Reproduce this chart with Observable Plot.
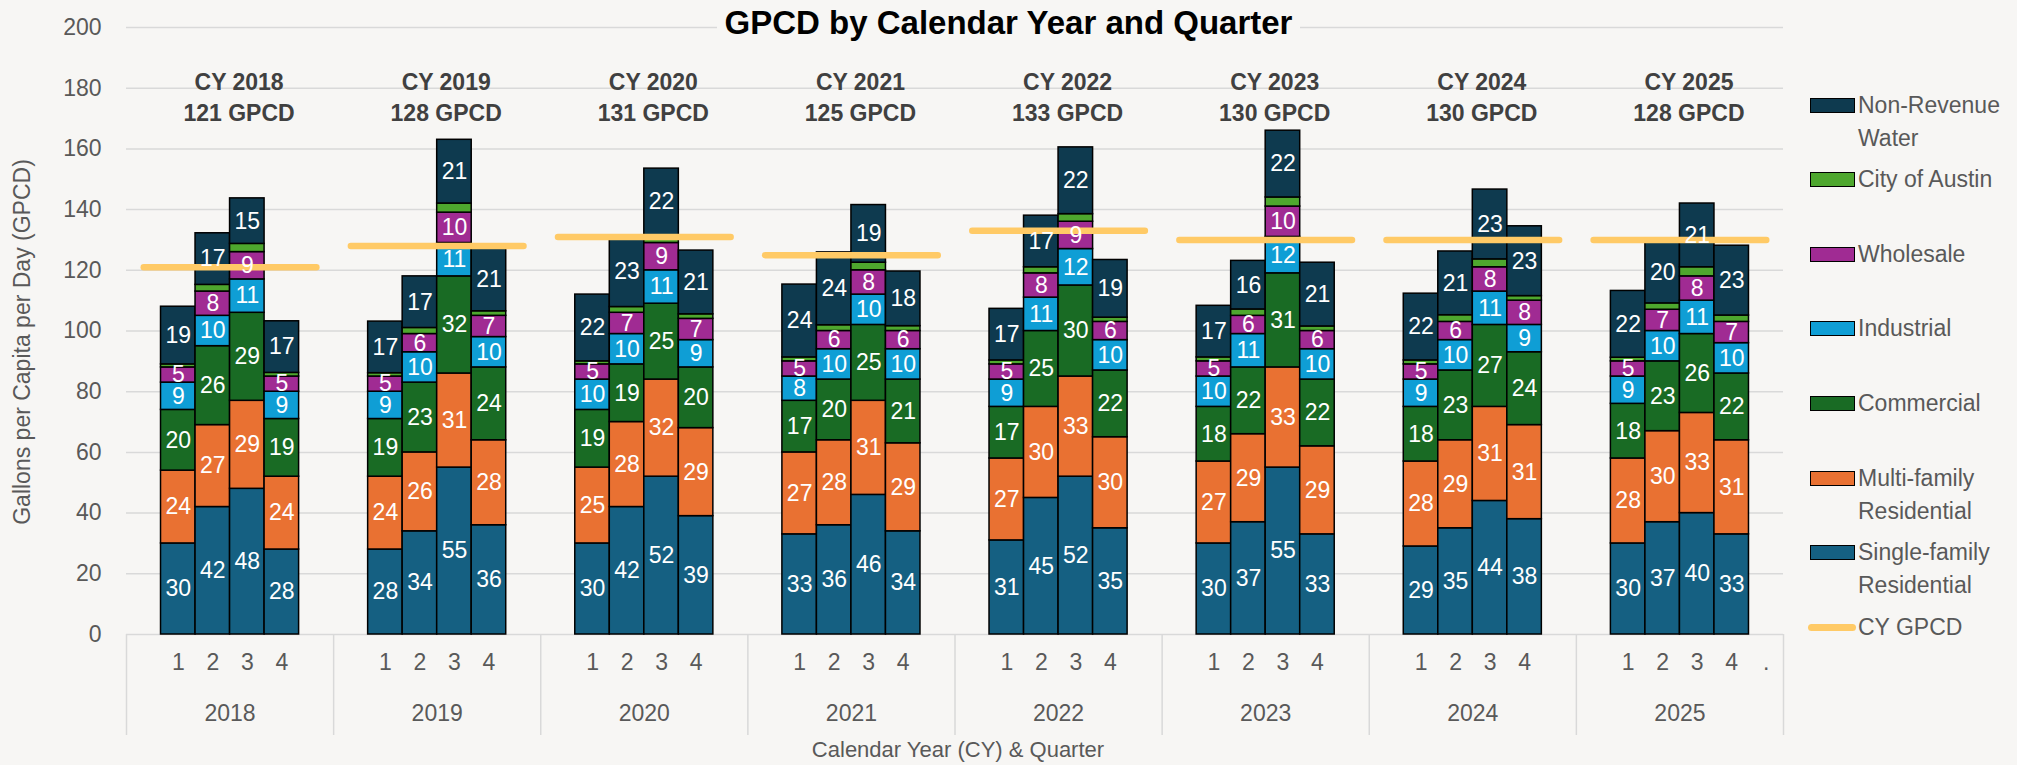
<!DOCTYPE html>
<html>
<head>
<meta charset="utf-8">
<script src="https://cdn.jsdelivr.net/npm/d3@7"></script>
<script src="https://cdn.jsdelivr.net/npm/@observablehq/plot@0.6"></script>
<style>
  html, body { margin: 0; padding: 0; background: #f7f6f4; }
  #wrap { position: relative; width: 2017px; height: 765px; background: #f7f6f4; overflow: hidden;
          font-family: "Liberation Sans", Arial, sans-serif; color: #595959; }
  #chart { position: absolute; left: 0; top: 0; }
  #title { position: absolute; left: 0; top: 5px; width: 2017px; text-align: center; font-weight: bold;
           font-size: 33px; line-height: 36px; color: #000; }
  #title span { background: #f7f6f4; padding: 0 8px; }
  .ylab { position: absolute; left: 22px; top: 342px; transform: translate(-50%, -50%) rotate(-90deg);
          font-size: 23px; white-space: nowrap; }
  .xlab { position: absolute; left: 958px; top: 750px; transform: translate(-50%, -50%);
          font-size: 22px; white-space: nowrap; }
  .lg-item { position: absolute; left: 1858px; width: 155px; font-size: 23px; line-height: 33px; color: #595959; }
  .lg-sw { position: absolute; left: 1810px; width: 45px; height: 15px; box-sizing: border-box; border: 1.5px solid #000; }
  .lg-line { position: absolute; left: 1808px; width: 48px; height: 7px; border-radius: 4px; }
</style>
</head>
<body>
<div id="wrap">
  <div id="chart"></div>
  <div id="title"><span>GPCD by Calendar Year and Quarter</span></div>
  <div class="ylab">Gallons per Capita per Day (GPCD)</div>
  <div class="xlab">Calendar Year (CY) &amp; Quarter</div>
  <div id="legend"></div>
</div>
<script>
// ---------------- data ----------------
const years = [2018, 2019, 2020, 2021, 2022, 2023, 2024, 2025];
const quarters = [1, 2, 3, 4];
const series = ["Single-family Residential", "Multi-family Residential", "Commercial", "Industrial",
                "Wholesale", "City of Austin", "Non-Revenue Water"];
const colors = ["#156082", "#e97132", "#196b24", "#0f9ed5", "#a02b93", "#4ea72e", "#0e3a4f"];
const lineName = "CY GPCD";
const lineColor = "#ffca66";

// values per quarter, 2018 Q1 ... 2025 Q4
const singleFamily = [30,42,48,28, 28,34,55,36, 30,42,52,39, 33,36,46,34, 31,45,52,35, 30,37,55,33, 29,35,44,38, 30,37,40,33];
const multiFamily  = [24,27,29,24, 24,26,31,28, 25,28,32,29, 27,28,31,29, 27,30,33,30, 27,29,33,29, 28,29,31,31, 28,30,33,31];
const commercial   = [20,26,29,19, 19,23,32,24, 19,19,25,20, 17,20,25,21, 17,25,30,22, 18,22,31,22, 18,23,27,24, 18,23,26,22];
const industrial   = [9,10,11,9, 9,10,11,10, 10,10,11,9, 8,10,10,10, 9,11,12,10, 10,11,12,10, 9,10,11,9, 9,10,11,10];
const wholesale    = [5,8,9,5, 5,6,10,7, 5,7,9,7, 5,6,8,6, 5,8,9,6, 5,6,10,6, 5,6,8,8, 5,7,8,7];
const cityOfAustin = [1.0,2.2,2.7,1.2, 1.1,2.0,3.0,1.5, 1.0,1.9,2.5,1.5, 1.3,1.9,2.5,1.6, 1.3,2.0,2.5,1.4, 1.3,2.1,3.0,1.5, 1.3,2.2,2.6,1.5, 1.2,2.1,3.0,2.1];
const nonRevenue   = [19,17,15,17, 17,17,21,21, 22,23,22,21, 24,24,19,18, 17,17,22,19, 17,16,22,21, 22,21,23,23, 22,20,21,23];
const cyGPCD = [121, 128, 131, 125, 133, 130, 130, 128];     // header labels
const cyLine = [121, 128, 131, 125, 133, 130, 130, 130];     // level of the drawn CY GPCD line

const yTicks = [0, 20, 40, 60, 80, 100, 120, 140, 160, 180, 200];
const slotLabels = ["", "1", "2", "3", "4", ""];   // each year: blank, Q1..Q4, blank
const trailingLabel = ".";
const unlabeledSeries = "City of Austin";

// ---------------- tables ----------------
const seriesValues = [singleFamily, multiFamily, commercial, industrial, wholesale, cityOfAustin, nonRevenue];
const keyOf = (y, s) => `${y}-${s}`;
const keys = years.flatMap(y => slotLabels.map((_, s) => keyOf(y, s)));
const keyRows = keys.map((k, i) => ({key: k, label: i === keys.length - 1 ? trailingLabel : slotLabels[i % slotLabels.length]}));

const rows = [];
years.forEach((y, yi) => quarters.forEach((q, qi) => {
  const idx = yi * quarters.length + qi;
  series.forEach((s, si) => rows.push({key: keyOf(y, q), series: s, value: seriesValues[si][idx]}));
}));
const lineRows = years.flatMap((y, i) => [
  {year: y, key: keyOf(y, 0), gpcd: cyLine[i]},
  {year: y, key: keyOf(y, slotLabels.length - 1), gpcd: cyLine[i]}
]);
const yearRows = years.map((y, i) => ({year: y, gpcd: cyGPCD[i]}));

// ---------------- layout ----------------
const W = 2017, H = 765, mL = 126, mR = 234, mT = 27, mB = 131;
const bw = (W - mL - mR) / keys.length;
const pxPerUnit = (H - mT - mB) / (yTicks[yTicks.length - 1] - yTicks[0]);
const sepDepth = 101 / pxPerUnit;
const midSlot = 3;
const font = '"Liberation Sans", Arial, sans-serif';

const chart = Plot.plot({
  width: W, height: H,
  marginLeft: mL, marginRight: mR, marginTop: mT, marginBottom: mB,
  style: {background: "transparent", fontFamily: font, fontSize: "23px", color: "#595959", overflow: "visible"},
  x: {domain: keys, padding: 0, round: false, axis: null},
  y: {domain: [yTicks[0], yTicks[yTicks.length - 1]], ticks: yTicks, tickSize: 0, tickPadding: 25, label: null},
  color: {domain: series, range: colors},
  marks: [
    Plot.ruleY(yTicks, {stroke: "#d9d9d9", strokeWidth: 1.5}),
    // year separators on the category axis
    Plot.ruleX(years, {x: y => keyOf(y, 0), dx: -bw / 2, y1: 0, y2: -sepDepth, stroke: "#d9d9d9", strokeWidth: 1.5}),
    Plot.ruleX([years[years.length - 1]], {x: y => keyOf(y, slotLabels.length - 1), dx: bw / 2, y1: 0, y2: -sepDepth, stroke: "#d9d9d9", strokeWidth: 1.5}),
    // stacked bars
    Plot.barY(rows, Plot.stackY({x: "key", y: "value", z: "series", fill: "series", stroke: "#000", strokeWidth: 1.5})),
    // calendar-year GPCD line
    Plot.line(lineRows, {x: "key", y: "gpcd", z: "year", stroke: lineColor, strokeWidth: 6.5, strokeLinecap: "round"}),
    // data labels
    Plot.text(rows, Plot.stackY({x: "key", y: "value", z: "series",
      text: d => d.series === unlabeledSeries ? "" : String(Math.round(d.value)),
      fill: "white", fontSize: 23})),
    // quarter labels
    Plot.text(keyRows, {x: "key", text: "label", frameAnchor: "bottom", dy: 35, fill: "#595959", fontSize: 23}),
    // year labels
    Plot.text(years, {x: y => keyOf(y, midSlot), text: y => String(y), frameAnchor: "bottom", dy: 86, dx: -bw / 2, fill: "#595959", fontSize: 23}),
    // year headers
    Plot.text(yearRows, {x: d => keyOf(d.year, midSlot), text: d => `CY ${d.year}`, frameAnchor: "top", dy: 46, dx: -bw / 2 + 9,
      fill: "#404040", fontWeight: "bold", fontSize: 23}),
    Plot.text(yearRows, {x: d => keyOf(d.year, midSlot), text: d => `${d.gpcd} GPCD`, frameAnchor: "top", dy: 77, dx: -bw / 2 + 9,
      fill: "#404040", fontWeight: "bold", fontSize: 23})
  ]
});
document.getElementById("chart").appendChild(chart);

// ---------------- legend ----------------
const legend = document.getElementById("legend");
const legendEntries = [...series].reverse().map((s, i) => ({name: s, color: colors[series.length - 1 - i], kind: "box"}))
  .concat([{name: lineName, color: lineColor, kind: "line"}]);
legendEntries.forEach((e, i) => {
  const cy = 105 + i * 74.6;
  const sw = document.createElement("div");
  sw.className = e.kind === "box" ? "lg-sw" : "lg-line";
  sw.style.background = e.color;
  sw.style.top = (cy - (e.kind === "box" ? 7.5 : 3.5)) + "px";
  legend.appendChild(sw);
  const t = document.createElement("div");
  t.className = "lg-item";
  t.style.top = (cy - 16.5) + "px";
  t.textContent = e.name;
  legend.appendChild(t);
});
</script>
</body>
</html>
